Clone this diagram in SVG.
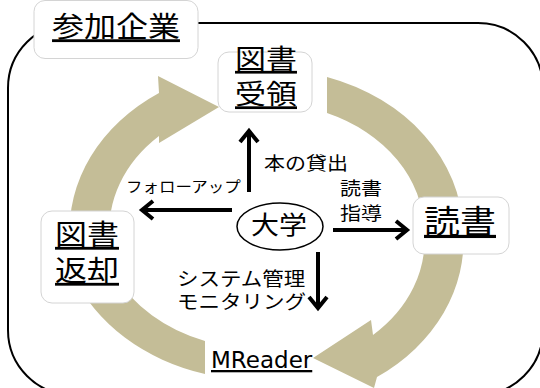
<svg xmlns="http://www.w3.org/2000/svg" width="540" height="388" viewBox="0 0 540 388">
<style>
.band{fill:#C4BD97}
.box{fill:#fff;stroke:#D4D4D4;stroke-width:1}
.t{font-family:'Noto Sans CJK JP','Noto Sans CJK SC',sans-serif;fill:#000}
.lat{font-family:'DejaVu Sans','Noto Sans',sans-serif;fill:#000}
.u{text-decoration:underline}
.conn{stroke:#000;stroke-width:4;fill:none;marker-end:url(#ah)}
.border{fill:none;stroke:#000;stroke-width:2}
</style>
<defs>
<marker id="ah" markerUnits="userSpaceOnUse" markerWidth="24" markerHeight="24" viewBox="0 0 24 24" refX="16" refY="12" orient="auto">
<path d="M5,3 L16,12 L5,21" fill="none" stroke="#000" stroke-width="4"/>
</marker>
</defs>
<rect class="border" x="8" y="23" width="535" height="372" rx="65" ry="65"/>
<g id="cycle">
<path class="band" d="M70,240 A197,164 0 0 1 159,93 L158,76 L219,107 L159,143 L159,136 A158,128 0 0 0 110,240 Z"/>
<path class="band" d="M327,77 A197,164 0 0 1 463,230 L424,230 A158,128 0 0 0 327,113 Z"/>
<path class="band" d="M424,230 A158,128 0 0 1 373,335 L371,320 L313,358 L374,388 L377,377 A197,164 0 0 0 463,230 Z"/>
<path class="band" d="M205,341 A158,128 0 0 1 115,275 L73,275 A197,164 0 0 0 205,374 Z"/>
</g>
<g id="participants">
<rect class="box" x="34" y="0.5" width="164" height="58" rx="11"/>
<text class="t u" font-size="32" text-anchor="middle" transform="translate(116,37.4) scale(1,0.88)">参加企業</text>
</g>
<g id="receive">
<rect class="box" x="218" y="52" width="94" height="60" rx="11"/>
<text class="t u" font-size="31" text-anchor="middle" transform="translate(266,69) scale(1,0.88)"><tspan x="0" y="0">図書</tspan><tspan x="0" y="40.3">受領</tspan></text>
</g>
<g id="return">
<rect class="box" x="41" y="211" width="93" height="92" rx="11"/>
<text class="t u" font-size="32" text-anchor="middle" transform="translate(87,245) scale(1,0.88)"><tspan x="0" y="0">図書</tspan><tspan x="0" y="40.9">返却</tspan></text>
</g>
<g id="reading">
<rect class="box" x="413" y="197" width="96" height="57" rx="11"/>
<text class="t u" font-size="36" text-anchor="middle" transform="translate(460,233) scale(1,0.88)">読書</text>
</g>
<g id="university">
<ellipse cx="280" cy="226.5" rx="43" ry="23.5" fill="#fff" stroke="#000" stroke-width="1.5"/>
<text class="t" font-size="28" text-anchor="middle" transform="translate(279,234) scale(1,0.88)">大学</text>
</g>
<g id="mreader">
<text class="lat u" font-size="23" transform="translate(211,368)">MReader</text>
</g>
<g id="connectors">
<line class="conn" x1="249" y1="192" x2="249" y2="131"/>
<line class="conn" x1="232" y1="210" x2="142" y2="210"/>
<line class="conn" x1="333" y1="230" x2="407" y2="230"/>
<line class="conn" x1="318" y1="252" x2="318" y2="308"/>
<text class="t" font-size="21" transform="translate(264,169.5) scale(1,0.88)">本の貸出</text>
<text class="t" font-size="16.5" transform="translate(126,192) scale(1,0.88)">フォローアップ</text>
<text class="t" font-size="21" text-anchor="middle" transform="translate(361,194.5) scale(1,0.88)"><tspan x="0" y="0">読書</tspan><tspan x="0" y="29.5">指導</tspan></text>
<text class="t" font-size="21.5" transform="translate(177,286) scale(1,0.88)"><tspan x="0" y="0">システム管理</tspan><tspan x="0" y="26.7">モニタリング</tspan></text>
</g>
</svg>
